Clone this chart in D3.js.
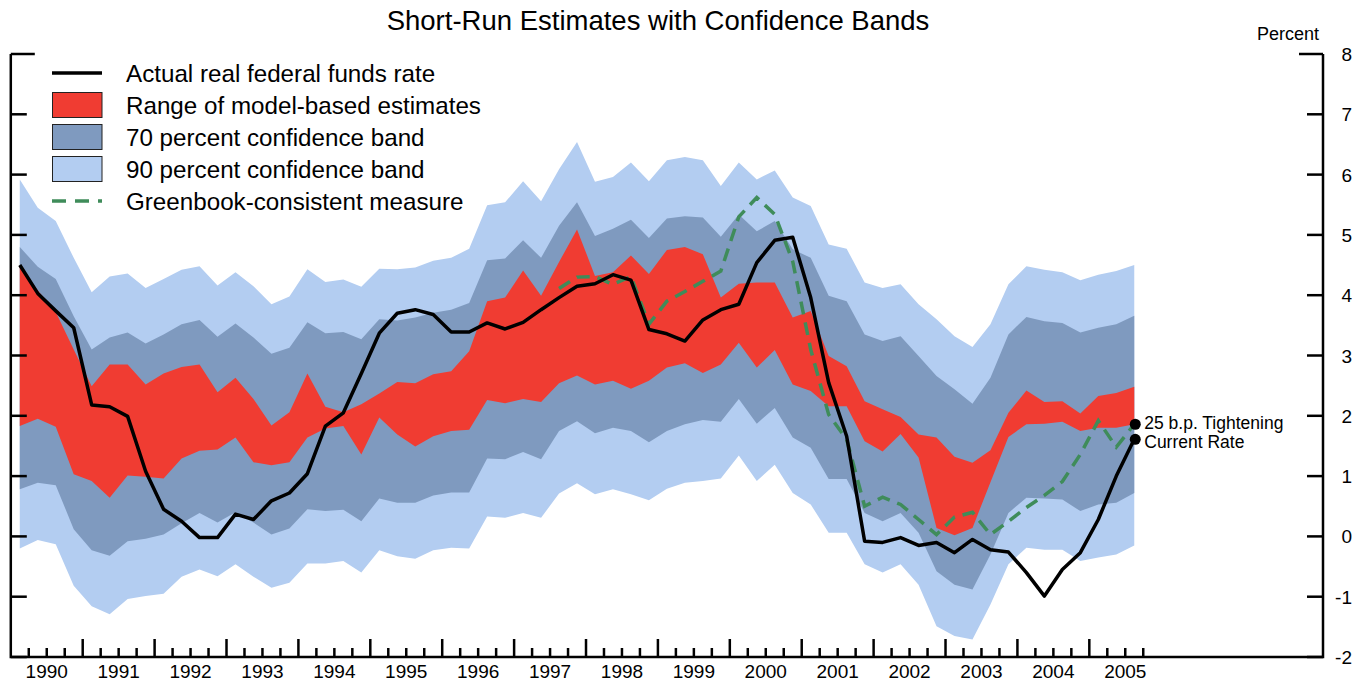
<!DOCTYPE html>
<html>
<head>
<meta charset="utf-8">
<script src="https://cdn.jsdelivr.net/npm/d3@7"></script>
<style>
  body { margin: 0; background: #fff; }
  svg { display: block; font-family: 'Liberation Sans', Arial, sans-serif; }
</style>
</head>
<body>
<svg id="chart" width="1367" height="683"></svg>
<script>
'use strict';

// quarterly observations, 1990Q1 .. 2005Q3
const startYear = 1990;
const years = [1990, 1991, 1992, 1993, 1994, 1995, 1996, 1997, 1998, 1999,
  2000, 2001, 2002, 2003, 2004, 2005];
const yTicks = [-2, -1, 0, 1, 2, 3, 4, 5, 6, 7, 8];

const actualRate = [4.50, 4.03, 3.74, 3.46, 2.18, 2.15, 1.99, 1.08, 0.45, 0.25,
  -0.02, -0.02, 0.37, 0.28, 0.59, 0.72, 1.04, 1.83, 2.05, 2.70,
  3.37, 3.70, 3.76, 3.68, 3.39, 3.39, 3.54, 3.44, 3.55, 3.76,
  3.96, 4.15, 4.19, 4.34, 4.25, 3.43, 3.36, 3.24, 3.59, 3.76,
  3.85, 4.54, 4.91, 4.96, 3.96, 2.55, 1.66, -0.08, -0.10, -0.02,
  -0.15, -0.10, -0.27, -0.05, -0.22, -0.26, -0.60, -0.99, -0.55, -0.27,
  0.28, 1.00, 1.61];

// greenbook measure begins in 1997Q3 (index 30)
const greenbookStart = 30;
const greenbook = [4.11, 4.30, 4.31, 4.18, 4.31, 3.52, 3.90, 4.06, 4.23, 4.40,
  5.30, 5.62, 5.34, 4.56, 3.10, 2.02, 1.61, 0.50, 0.65, 0.53,
  0.28, 0.03, 0.32, 0.40, 0.03, 0.25, 0.48, 0.68, 0.91, 1.36,
  1.92, 1.48, 1.86];

const rangeHigh = [4.48, 4.08, 3.72, 3.10, 2.49, 2.85, 2.85, 2.52, 2.70, 2.81,
  2.85, 2.39, 2.63, 2.28, 1.84, 2.06, 2.70, 2.15, 2.06, 2.19,
  2.37, 2.56, 2.54, 2.69, 2.74, 3.07, 3.90, 3.96, 4.41, 3.99,
  4.55, 5.09, 4.32, 4.38, 4.66, 4.35, 4.75, 4.80, 4.68, 3.96,
  4.19, 4.21, 4.21, 3.63, 3.74, 2.99, 2.82, 2.24, 2.11, 1.98,
  1.69, 1.64, 1.32, 1.22, 1.43, 2.05, 2.42, 2.23, 2.24, 2.04,
  2.33, 2.38, 2.48];
const rangeLow = [1.83, 1.95, 1.82, 1.03, 0.92, 0.64, 1.01, 0.99, 0.96, 1.29,
  1.42, 1.44, 1.64, 1.23, 1.18, 1.23, 1.64, 1.79, 1.83, 1.36,
  1.97, 1.69, 1.49, 1.66, 1.75, 1.77, 2.26, 2.21, 2.28, 2.23,
  2.54, 2.67, 2.52, 2.58, 2.45, 2.58, 2.80, 2.87, 2.71, 2.85,
  3.21, 2.80, 3.09, 2.52, 2.41, 2.16, 2.16, 1.58, 1.41, 1.70,
  1.31, 0.14, 0.02, 0.14, 0.90, 1.65, 1.86, 1.87, 1.90, 1.75,
  1.80, 1.80, 1.86];

const band70High = [4.80, 4.47, 4.27, 3.65, 3.10, 3.30, 3.38, 3.20, 3.35, 3.52,
  3.59, 3.31, 3.53, 3.30, 3.03, 3.13, 3.55, 3.37, 3.39, 3.27,
  3.60, 3.58, 3.63, 3.71, 3.76, 3.87, 4.58, 4.61, 4.91, 4.62,
  5.15, 5.54, 4.98, 5.10, 5.25, 4.95, 5.27, 5.31, 5.29, 4.97,
  5.34, 5.06, 5.23, 4.76, 4.62, 3.99, 3.90, 3.35, 3.24, 3.32,
  2.99, 2.66, 2.44, 2.20, 2.63, 3.35, 3.64, 3.57, 3.54, 3.38,
  3.46, 3.52, 3.66];
const band70Low = [0.78, 0.89, 0.85, 0.12, -0.23, -0.32, -0.08, -0.04, 0.03, 0.22,
  0.39, 0.23, 0.40, 0.23, 0.03, 0.13, 0.45, 0.42, 0.44, 0.25,
  0.63, 0.56, 0.56, 0.68, 0.73, 0.73, 1.29, 1.28, 1.40, 1.28,
  1.75, 1.91, 1.71, 1.80, 1.75, 1.56, 1.75, 1.86, 1.93, 1.90,
  2.28, 1.87, 2.13, 1.64, 1.47, 0.95, 0.95, 0.39, 0.25, 0.39,
  0.06, -0.58, -0.80, -0.88, -0.30, 0.39, 0.64, 0.63, 0.61, 0.42,
  0.53, 0.56, 0.72];

const band90High = [5.92, 5.45, 5.23, 4.62, 4.05, 4.31, 4.36, 4.12, 4.27, 4.42,
  4.48, 4.16, 4.38, 4.15, 3.85, 3.98, 4.43, 4.22, 4.26, 4.14,
  4.44, 4.43, 4.46, 4.57, 4.62, 4.77, 5.49, 5.54, 5.89, 5.56,
  6.09, 6.54, 5.88, 5.96, 6.20, 5.89, 6.24, 6.29, 6.24, 5.81,
  6.20, 5.92, 6.07, 5.62, 5.48, 4.84, 4.77, 4.21, 4.12, 4.18,
  3.85, 3.60, 3.32, 3.14, 3.52, 4.18, 4.48, 4.42, 4.38, 4.25,
  4.34, 4.40, 4.50];
const band90Low = [-0.20, -0.06, -0.13, -0.82, -1.16, -1.29, -1.04, -0.99, -0.95, -0.67,
  -0.55, -0.66, -0.46, -0.67, -0.85, -0.77, -0.45, -0.45, -0.41, -0.60,
  -0.23, -0.33, -0.37, -0.23, -0.19, -0.20, 0.33, 0.31, 0.39, 0.31,
  0.71, 0.88, 0.70, 0.78, 0.70, 0.60, 0.79, 0.89, 0.92, 0.96,
  1.34, 0.92, 1.19, 0.72, 0.53, 0.06, 0.06, -0.46, -0.60, -0.46,
  -0.80, -1.49, -1.65, -1.71, -1.13, -0.46, -0.19, -0.22, -0.22, -0.41,
  -0.35, -0.30, -0.15];

const legendLabels = ['Actual real federal funds rate', 'Range of model-based estimates',
  '70 percent confidence band', '90 percent confidence band', 'Greenbook-consistent measure'];
const endLabels = ['25 b.p. Tightening', 'Current Rate'];

const colors = {
  band90: '#b3cdf1',
  band70: '#7f9abf',
  range: '#f03c32',
  greenbook: '#3f8c5a',
  actual: '#000',
};

// layout
const plot = { left: 10.8, right: 1323, top: 54, bottom: 657 };

const svg = d3.select('#chart');

const xScale = d3.scaleLinear()
  .domain([startYear, 2008.25])
  .range([plot.left, plot.right]);
const yScale = d3.scaleLinear()
  .domain([-2, 8])
  .range([plot.bottom, plot.top]);

// quarter midpoints
function qx(i) {
  return xScale(startYear + (i + 0.5) / 4);
}

const bandData = actualRate.map(function(d, i) {
  return {
    i: i,
    h90: band90High[i], l90: band90Low[i],
    h70: band70High[i], l70: band70Low[i],
    hr: rangeHigh[i], lr: rangeLow[i],
  };
});

function band(hi, lo) {
  return d3.area()
    .x(function(d) { return qx(d.i); })
    .y0(function(d) { return yScale(d[lo]); })
    .y1(function(d) { return yScale(d[hi]); });
}

svg.append('path').datum(bandData)
  .attr('fill', colors.band90).attr('d', band('h90', 'l90'));
svg.append('path').datum(bandData)
  .attr('fill', colors.band70).attr('d', band('h70', 'l70'));
svg.append('path').datum(bandData)
  .attr('fill', colors.range).attr('d', band('hr', 'lr'));

const line = d3.line()
  .x(function(d) { return qx(d.i); })
  .y(function(d) { return yScale(d.v); });

const gbData = greenbook.map(function(v, k) { return { i: greenbookStart + k, v: v }; });
const actualData = actualRate.map(function(v, i) { return { i: i, v: v }; });

svg.append('path').datum(gbData)
  .attr('fill', 'none')
  .attr('stroke', colors.greenbook)
  .attr('stroke-width', 3.5)
  .attr('stroke-dasharray', '13,8')
  .attr('d', line);

svg.append('path').datum(actualData)
  .attr('fill', 'none')
  .attr('stroke', colors.actual)
  .attr('stroke-width', 3.5)
  .attr('stroke-linejoin', 'round')
  .attr('d', line);

// end points
const lastIdx = actualRate.length - 1;
const endValues = [greenbook[greenbook.length - 1], actualRate[lastIdx]];
const endShift = [5, 8.5];
const ends = svg.append('g').selectAll('g')
  .data(endValues)
  .enter()
  .append('g');
ends.append('circle')
  .attr('cx', qx(lastIdx) + 1)
  .attr('cy', function(d) { return yScale(d); })
  .attr('r', 5.5)
  .attr('fill', '#000');
ends.append('text')
  .attr('x', qx(lastIdx) + 10)
  .attr('y', function(d, i) { return yScale(d) + endShift[i]; })
  .style('font-size', '17.5px')
  .text(function(d, i) { return endLabels[i]; });

// axes
const axes = svg.append('g')
  .attr('stroke', '#000')
  .attr('stroke-width', 2.5)
  .attr('fill', 'none');

axes.append('path')
  .attr('d', 'M' + plot.left + ',' + plot.top + 'V' + plot.bottom + 'H' + plot.right + 'V' + plot.top);

yTicks.forEach(function(t) {
  const len = t === 8 ? 24 : 16;
  axes.append('line')
    .attr('x1', plot.left).attr('x2', plot.left + len)
    .attr('y1', yScale(t)).attr('y2', yScale(t));
  axes.append('line')
    .attr('x1', plot.right).attr('x2', plot.right - len)
    .attr('y1', yScale(t)).attr('y2', yScale(t));
});

// quarter ticks along the bottom
const qTicks = d3.range(1, years.length * 4);
axes.selectAll('.qtick')
  .data(qTicks)
  .enter()
  .append('line')
  .attr('class', 'qtick')
  .attr('x1', function(k) { return xScale(startYear + k / 4); })
  .attr('x2', function(k) { return xScale(startYear + k / 4); })
  .attr('y1', plot.bottom)
  .attr('y2', function(k) { return plot.bottom - (k % 4 === 0 ? 18 : 9); });

svg.append('g').selectAll('text')
  .data(years)
  .enter()
  .append('text')
  .attr('x', function(d) { return xScale(d + 0.5); })
  .attr('y', 678)
  .attr('text-anchor', 'middle')
  .style('font-size', '19px')
  .text(function(d) { return d; });

svg.append('g').selectAll('text')
  .data(yTicks)
  .enter()
  .append('text')
  .attr('x', 1352)
  .attr('y', function(d) { return yScale(d) + 7; })
  .attr('text-anchor', 'end')
  .style('font-size', '19px')
  .text(function(d) { return d; });

svg.append('text')
  .attr('x', 1288).attr('y', 40)
  .attr('text-anchor', 'middle')
  .style('font-size', '18px')
  .text('Percent');

svg.append('text')
  .attr('x', 658).attr('y', 30)
  .attr('text-anchor', 'middle')
  .style('font-size', '27.5px')
  .text('Short-Run Estimates with Confidence Bands');

// legend
const legend = svg.append('g').attr('transform', 'translate(52,73)');
const rowH = 32;
legend.append('line')
  .attr('x1', 0).attr('x2', 50).attr('y1', 0).attr('y2', 0)
  .attr('stroke', colors.actual).attr('stroke-width', 3.5);
[colors.range, colors.band70, colors.band90].forEach(function(c, i) {
  legend.append('rect')
    .attr('x', 0.5).attr('y', (i + 1) * rowH - 12.5)
    .attr('width', 49.5).attr('height', 25)
    .attr('fill', c)
    .attr('stroke', '#222').attr('stroke-width', 1);
});
legend.append('line')
  .attr('x1', 0).attr('x2', 50).attr('y1', 4 * rowH).attr('y2', 4 * rowH)
  .attr('stroke', colors.greenbook).attr('stroke-width', 3.5)
  .attr('stroke-dasharray', '14,9');
legend.selectAll('text')
  .data(legendLabels)
  .enter()
  .append('text')
  .attr('x', 74)
  .attr('y', function(d, i) { return i * rowH + 9; })
  .style('font-size', '24.2px')
  .text(function(d) { return d; });
</script>
</body>
</html>
